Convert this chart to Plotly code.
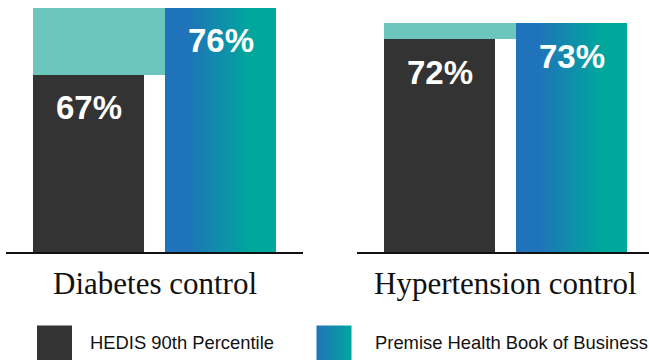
import plotly.graph_objects as go

# ---- data ----
categories = ["Diabetes control", "Hypertension control"]
hedis_values = [67, 72]
premise_values = [76, 73]
series_names = ["HEDIS 90th Percentile", "Premise Health Book of Business"]

# ---- styles ----
DARK = "#333333"
GAP_TEAL = "#6cc6bd"
GRAD_BLUE = "#1f73ba"
GRAD_TEAL = "#00a89c"
grad_scale = [[0, GRAD_BLUE], [0.2, GRAD_BLUE], [0.78, GRAD_TEAL], [1, GRAD_TEAL]]
BAR_W = 0.841
y_ranges = [[43.22, 77.07], [58.69, 74.44]]
x_ranges = [[-0.625, 1.625], [-0.625, 1.587]]
x_domains = [[6 / 649, 303 / 649], [357 / 649, 1.0]]

fig = go.Figure()

for i, cat in enumerate(categories):
    xa = "x" if i == 0 else f"x{i+1}"
    ya = "y" if i == 0 else f"y{i+1}"
    h = hedis_values[i]
    p = premise_values[i]
    # gap band (from HEDIS level up to Premise level), spanning dark bar to gradient bar
    left_dark = 0 - BAR_W / 2
    left_grad = 1 - BAR_W / 2
    fig.add_trace(go.Bar(
        x=[(left_dark + left_grad) / 2], y=[p - h], base=[h], width=[left_grad - left_dark],
        marker=dict(color=GAP_TEAL, line=dict(width=0)),
        xaxis=xa, yaxis=ya, showlegend=False, hoverinfo="skip"))
    # HEDIS bar
    fig.add_trace(go.Bar(
        x=[0], y=[h], width=[BAR_W], marker=dict(color=DARK, line=dict(width=0)),
        xaxis=xa, yaxis=ya, showlegend=False, name=series_names[0]))
    # Premise bar with gradient
    xl, xr = 1 - BAR_W / 2, 1 + BAR_W / 2
    fig.add_trace(go.Scatter(
        x=[xl, xr, xr, xl, xl], y=[0, 0, p, p, 0], mode="lines", line=dict(width=0),
        fill="toself",
        fillgradient=dict(type="horizontal", colorscale=grad_scale),
        xaxis=xa, yaxis=ya, showlegend=False, hoverinfo="skip", name=series_names[1]))
    # value labels
    for xv, val in [(0, h), (1, p)]:
        fig.add_annotation(
            x=xv, y=val, xref=xa, yref=ya, text=f"{val}%", showarrow=False,
            yanchor="middle", yshift=-33,
            font=dict(family="Liberation Sans, Arial", size=33, color="white", weight="bold"))
    # category label
    fig.add_annotation(
        x=0.5, y=(360 - 283) / 360, xref=xa, yref="paper", text=cat, showarrow=False,
        yanchor="middle", xanchor="center",
        font=dict(family="Liberation Serif, serif", size=31, color="#111111"))

# custom legend on a pixel-space overlay axis
leg_marker_x = [54.5, 334]
leg_text_x = [88, 373]
leg_y = 343
fig.add_trace(go.Scatter(
    x=[leg_marker_x[0]], y=[leg_y], mode="markers",
    marker=dict(symbol="square", size=35, color=DARK, line=dict(width=0)),
    xaxis="x3", yaxis="y3", showlegend=False, hoverinfo="skip"))
fig.add_trace(go.Scatter(
    x=[leg_marker_x[1]], y=[leg_y], mode="markers",
    marker=dict(symbol="square", size=35, color=GRAD_BLUE,
                gradient=dict(type="horizontal", color=GRAD_TEAL), line=dict(width=0)),
    xaxis="x3", yaxis="y3", showlegend=False, hoverinfo="skip"))
for tx, name in zip(leg_text_x, series_names):
    fig.add_annotation(
        x=tx, y=leg_y - 1, xref="x3", yref="y3", text=name, showarrow=False,
        xanchor="left", yanchor="middle",
        font=dict(family="Liberation Sans, Arial", size=18.4, color="#111111"))

axis_off = dict(visible=False, showgrid=False, zeroline=False, fixedrange=True)
fig.update_layout(
    width=649, height=360, margin=dict(l=0, r=0, t=0, b=0),
    paper_bgcolor="white", plot_bgcolor="rgba(0,0,0,0)",
    barmode="overlay", showlegend=False,
    xaxis=dict(domain=x_domains[0], range=x_ranges[0], showline=True, linecolor="#111111",
               linewidth=2, showticklabels=False, ticks="", showgrid=False, zeroline=False),
    yaxis=dict(domain=[0.3, 1], range=y_ranges[0], **axis_off),
    xaxis2=dict(domain=x_domains[1], range=x_ranges[1], showline=True, linecolor="#111111",
                linewidth=2, showticklabels=False, ticks="", showgrid=False, zeroline=False,
                anchor="y2"),
    yaxis2=dict(domain=[0.3, 1], range=y_ranges[1], anchor="x2", **axis_off),
    xaxis3=dict(domain=[0, 1], range=[0, 649], anchor="y3", **axis_off),
    yaxis3=dict(domain=[0, 1], range=[360, 0], anchor="x3", **axis_off),
)

fig.write_html("out.html")
